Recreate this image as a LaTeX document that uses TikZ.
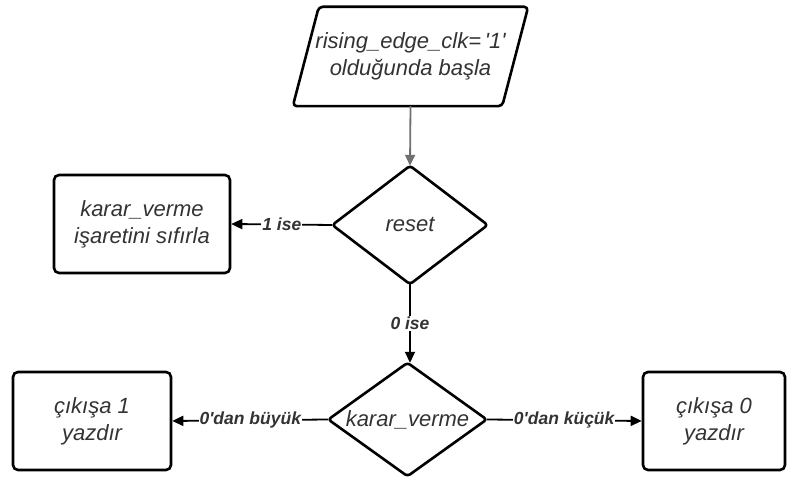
\documentclass[tikz,border=0pt]{standalone}
\usepackage{fontspec}
\setmainfont{Liberation Sans}
\usetikzlibrary{arrows.meta,calc}
\definecolor{txt}{HTML}{333333}
\definecolor{flow}{HTML}{707070}
\newcommand{\sq}{\textquotesingle}
\begin{document}
\begin{tikzpicture}[x=1pt,y=1pt,
  shapetext/.style={font=\fontsize{22}{27}\selectfont\itshape, text=txt, align=center, inner sep=0pt},
  boxnode/.style={shapetext, draw=black, line width=2.6pt, rounded corners=5pt},
  frame/.style={draw=black, line width=2.6pt, rounded corners=4pt, line join=round},
  conn/.style={draw=black, line width=1.8pt, -{Triangle[length=11pt,width=10pt]}},
  lbl/.style={font=\fontsize{17.5}{19}\selectfont\bfseries\itshape, text=txt, fill=white, inner sep=1pt}]
  \useasboundingbox (0,0) rectangle (793,478);

  % start condition (parallelogram drawn around a plain node)
  \node[shapetext, minimum width=235pt, minimum height=99pt] (start) at (410.5,421.5)
    {rising\_edge\_clk=\,\sq1\sq\\olduğunda başla};
  \draw[frame] ($(start.north west)+(26,0)$) -- (start.north east)
    -- ($(start.south east)-(26,0)$) -- (start.south west) -- cycle;

  % reset decision
  \node[shapetext, minimum width=155pt, minimum height=118pt] (reset) at (410,253) {reset};
  \draw[frame, rounded corners=3pt] (reset.north) -- (reset.east) -- (reset.south) -- (reset.west) -- cycle;

  % clear karar_verme
  \node[boxnode, minimum width=176pt, minimum height=98pt] (clear) at (142,254)
    {karar\_verme\\işaretini sıfırla};

  % karar_verme decision
  \node[shapetext, minimum width=158pt, minimum height=113pt] (karar) at (407.5,58.5) {karar\_verme};
  \draw[frame, rounded corners=3pt] (karar.north) -- (karar.east) -- (karar.south) -- (karar.west) -- cycle;

  % outputs
  \node[boxnode, minimum width=158pt, minimum height=98pt] (out1) at (92,57) {çıkışa 1\\yazdır};
  \node[boxnode, minimum width=142pt, minimum height=98pt] (out0) at (714,57) {çıkışa 0\\yazdır};

  % connectors
  \draw[conn, draw=flow, -{Triangle[length=11pt,width=10pt,fill=flow]}] (start.south) -- (reset.north);
  \draw[conn] (reset.west) -- node[lbl] {1 ise} (clear.east);
  \draw[conn] (reset.south) -- node[lbl] {0 ise} (reset.south |- karar.north);
  \draw[conn] (karar.west) -- node[lbl] {0\sq dan büyük} (out1.east);
  \draw[conn] (karar.east) -- node[lbl] {0\sq dan küçük} (out0.west);
\end{tikzpicture}
\end{document}
